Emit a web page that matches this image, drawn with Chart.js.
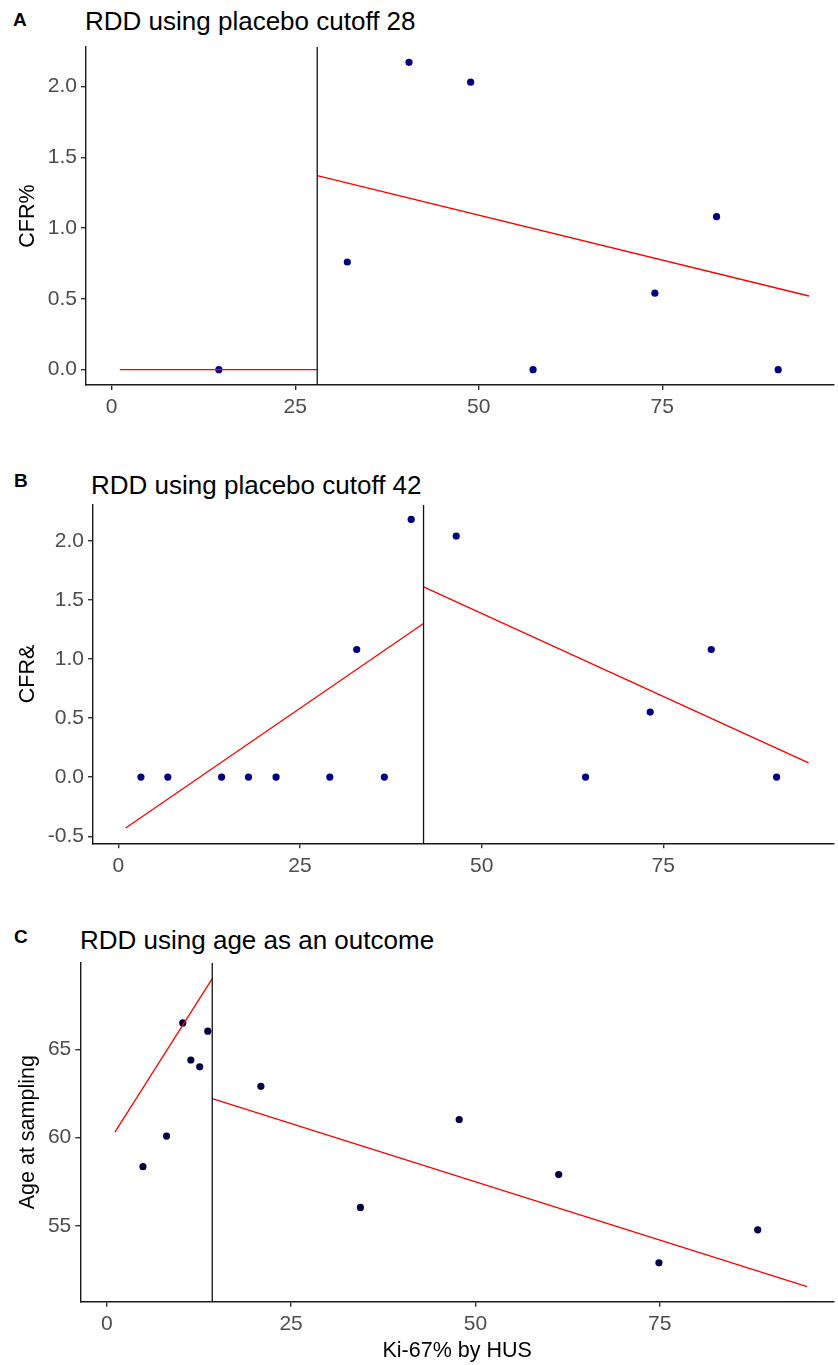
<!DOCTYPE html>
<html>
<head>
<meta charset="utf-8">
<script src="https://cdn.jsdelivr.net/npm/chart.js@4/dist/chart.umd.min.js"></script>
<style>
  body { margin: 0; width: 838px; height: 1365px; background: #fff; position: relative; overflow: hidden;
         font-family: "Liberation Sans", Arial, sans-serif; }
  canvas { position: absolute; left: 0; }
  .tag { position: absolute; font-weight: bold; font-size: 19px; line-height: 19px; color: #000; }
  .ttl { position: absolute; font-size: 26px; line-height: 26px; color: #000; white-space: nowrap; }
</style>
</head>
<body>
<div class="tag" style="left:13px;top:9.5px">A</div>
<div class="ttl" style="left:85px;top:8.4px">RDD using placebo cutoff 28</div>
<canvas id="pa" width="838" height="440" style="top:0px"></canvas>

<div class="tag" style="left:14px;top:470.5px">B</div>
<div class="ttl" style="left:91px;top:471.7px">RDD using placebo cutoff 42</div>
<canvas id="pb" width="838" height="440" style="top:460px"></canvas>

<div class="tag" style="left:14px;top:926.5px">C</div>
<div class="ttl" style="left:80px;top:927px">RDD using age as an outcome</div>
<canvas id="pc" width="838" height="445" style="top:920px"></canvas>

<script>
// ---- data ----
const xTicks = [0, 25, 50, 75];

// A: placebo cutoff 28
const aCut = 28;
const aX = [14.6, 32.1, 40.5, 48.9, 57.4, 74.0, 82.4, 90.8];
const aY = [0, 0.76, 2.17, 2.03, 0, 0.54, 1.08, 0];
const aLeftX = [1.1, 28], aLeftY = [0, 0];
const aRightX = [28, 95], aRightY = [1.37, 0.52];
const aYTicks = [0, 0.5, 1.0, 1.5, 2.0];

// B: placebo cutoff 42
const bCut = 42;
const bX = [3.1, 6.8, 14.2, 17.9, 21.7, 29.1, 32.8, 36.6, 40.3, 46.5, 64.3, 73.2, 81.6, 90.6];
const bY = [0, 0, 0, 0, 0, 0, 1.08, 0, 2.18, 2.04, 0, 0.55, 1.08, 0];
const bLeftX = [1.0, 42], bLeftY = [-0.43, 1.30];
const bRightX = [42, 95], bRightY = [1.61, 0.12];
const bYTicks = [-0.5, 0, 0.5, 1.0, 1.5, 2.0];

// C: age as outcome
const cCut = 14.3;
const cX = [4.9, 8.1, 10.3, 11.4, 12.6, 13.7, 20.9, 34.4, 47.8, 61.3, 74.9, 88.3];
const cY = [58.35, 60.08, 66.49, 64.39, 64.0, 66.02, 62.9, 56.04, 61.02, 57.9, 52.9, 54.77];
const cLeftX = [1.1, 14.3], cLeftY = [60.3, 69.0];
const cRightX = [14.3, 95], cRightY = [62.2, 51.55];
const cYTicks = [55, 60, 65];

const FONT = '"Liberation Sans", Arial, sans-serif';
Chart.defaults.font.family = FONT;

const pts = (xs, ys) => xs.map((x, i) => ({ x, y: ys[i] }));

function panel(id, o) {
  const axisLine = { display: true, color: "#1a1a1a", width: 1.4 };
  const grid = { drawOnChartArea: false, drawTicks: true, tickLength: 5, color: "#333", lineWidth: 1.4 };
  new Chart(document.getElementById(id), {
    type: "scatter",
    data: {
      datasets: [
        { type: "line", data: [{ x: o.cut, y: o.yMin }, { x: o.cut, y: o.yMax }],
          borderColor: "#111", borderWidth: 1.3, pointRadius: 0 },
        { type: "line", data: pts(o.leftX, o.leftY), borderColor: "#ff0000", borderWidth: 1.3, pointRadius: 0 },
        { type: "line", data: pts(o.rightX, o.rightY), borderColor: "#ff0000", borderWidth: 1.3, pointRadius: 0 },
        { data: pts(o.x, o.y), pointRadius: 3.6, pointBackgroundColor: o.dot, pointBorderWidth: 0 },
      ],
    },
    options: {
      responsive: false, animation: false, devicePixelRatio: 1,
      layout: { padding: { top: o.top, left: 0, right: 0, bottom: 0 } },
      plugins: { legend: { display: false }, tooltip: { enabled: false } },
      scales: {
        x: {
          type: "linear", min: o.xMin, max: o.xMax,
          afterFit: (s) => { s.height = o.xH; },
          afterBuildTicks: (s) => { s.ticks = xTicks.map((v) => ({ value: v })); },
          grid, border: axisLine,
          ticks: { font: { size: 21 }, color: "#4d4d4d", padding: 5, maxRotation: 0, autoSkip: false },
          title: { display: !!o.xTitle, text: o.xTitle || "", font: { size: 21.5 }, color: "#000",
                   padding: { top: 0, bottom: 1 } },
        },
        y: {
          type: "linear", min: o.yMin, max: o.yMax,
          afterFit: (s) => { s.width = o.yW; },
          afterBuildTicks: (s) => { s.ticks = o.yTicks.map((v) => ({ value: v })); },
          grid, border: axisLine,
          ticks: { font: { size: 21 }, color: "#4d4d4d", padding: 4, callback: o.fmt },
          title: { display: true, text: o.yTitle, font: { size: 21.5 }, color: "#000",
                   padding: { top: 15.4, bottom: 0 } },
        },
      },
    },
  });
}

const oneDec = (v) => v.toFixed(1);

panel("pa", { cut: aCut, x: aX, y: aY, leftX: aLeftX, leftY: aLeftY, rightX: aRightX, rightY: aRightY,
  xMin: -3.5, xMax: 98.4, yMin: -0.1085, yMax: 2.2785, yTicks: aYTicks, fmt: oneDec,
  top: 47, xH: 55, yW: 86, yTitle: "CFR%", dot: "#000080" });

panel("pb", { cut: bCut, x: bX, y: bY, leftX: bLeftX, leftY: bLeftY, rightX: bRightX, rightY: bRightY,
  xMin: -3.5, xMax: 98.5, yMin: -0.56, yMax: 2.305, yTicks: bYTicks, fmt: oneDec,
  top: 44.7, xH: 56.7, yW: 93, yTitle: "CFR&", dot: "#000080" });

panel("pc", { cut: cCut, x: cX, y: cY, leftX: cLeftX, leftY: cLeftY, rightX: cRightX, rightY: cRightY,
  xMin: -3.6, xMax: 98.65, yMin: 50.7, yMax: 69.9, yTicks: cYTicks, fmt: (v) => String(v),
  top: 42.7, xH: 63.3, yW: 80.3, yTitle: "Age at sampling", xTitle: "Ki-67% by HUS", dot: "#000045" });
</script>
</body>
</html>
